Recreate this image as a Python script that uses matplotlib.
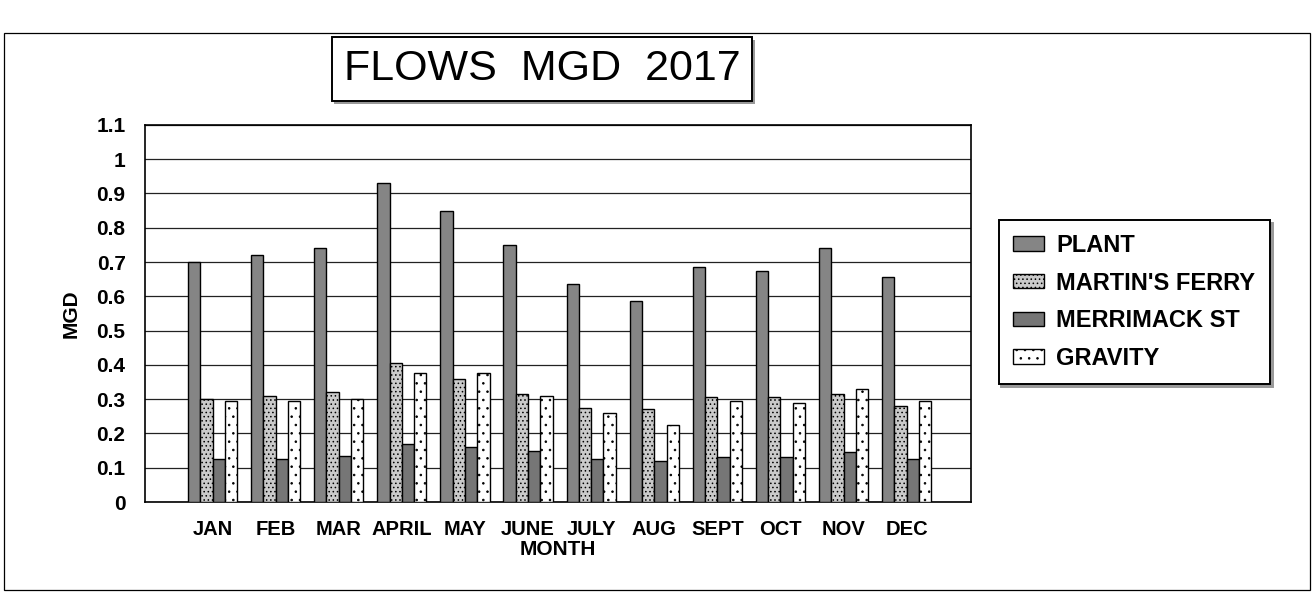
import numpy as np
import matplotlib
matplotlib.use("Agg")
from matplotlib import pyplot as plt
from matplotlib.patches import Rectangle

plt.rcParams["font.family"] = ["Liberation Sans", "DejaVu Sans"]
plt.rcParams["hatch.linewidth"] = 0.6

months = ["JAN", "FEB", "MAR", "APRIL", "MAY", "JUNE", "JULY", "AUG", "SEPT", "OCT", "NOV", "DEC"]
plant = [0.70, 0.72, 0.74, 0.93, 0.85, 0.75, 0.635, 0.585, 0.685, 0.675, 0.74, 0.655]
martins_ferry = [0.30, 0.31, 0.32, 0.405, 0.36, 0.315, 0.275, 0.27, 0.305, 0.305, 0.315, 0.28]
merrimack_st = [0.125, 0.125, 0.135, 0.17, 0.16, 0.15, 0.125, 0.12, 0.13, 0.13, 0.145, 0.125]
gravity = [0.295, 0.295, 0.30, 0.375, 0.375, 0.31, 0.26, 0.225, 0.295, 0.29, 0.33, 0.295]

series = [
    ("PLANT", plant, "#858585", None),
    ("MARTIN'S FERRY", martins_ferry, "#cacaca", "...."),
    ("MERRIMACK ST", merrimack_st, "#767676", None),
    ("GRAVITY", gravity, "#ffffff", ".."),
]

fig = plt.figure(figsize=(13.14, 5.92), dpi=100)
ax = fig.add_axes([0.1104, 0.152, 0.6286, 0.637])

x = np.arange(len(months))
w = 0.195
for i, (name, vals, col, hatch) in enumerate(series):
    ax.bar(x + (i - 1.5) * w, vals, w, color=col, edgecolor="black",
           linewidth=1.0, hatch=hatch, label=name, zorder=3)

ax.set_ylim(0, 1.1)
ax.set_xlim(-1.07, 12.02)
yt = np.round(np.arange(0, 1.11, 0.1), 1)
ax.set_yticks(yt)
ax.set_yticklabels([f"{v:g}" for v in yt], fontsize=15, fontweight="bold")
ax.set_xticks(x)
ax.set_xticklabels(months, fontsize=14.5, fontweight="bold")
ax.tick_params(axis="y", length=0, pad=14)
ax.tick_params(axis="x", length=0, pad=13)
ax.yaxis.grid(True, color="#222222", linewidth=0.9, zorder=0)
for s in ax.spines.values():
    s.set_linewidth(1.2)
ax.set_xlabel("MONTH", fontsize=15, fontweight="bold", labelpad=1)
ax.set_ylabel("MGD", fontsize=15, fontweight="bold", labelpad=11)

# title box, with a grey drop shadow behind it
fig.patches.append(Rectangle((0.2542, 0.8243), 0.3204, 0.1081, transform=fig.transFigure,
                             facecolor="#999999", edgecolor="none", zorder=1))
fig.text(0.4125, 0.883, "FLOWS  MGD  2017", fontsize=31, ha="center", va="center",
         bbox=dict(boxstyle="square,pad=0.28", facecolor="white", edgecolor="black", linewidth=1.4))

leg = fig.legend(loc="center left", bbox_to_anchor=(0.760, 0.49), borderaxespad=0,
                 prop={"size": 17, "weight": "bold"},
                 frameon=True, fancybox=False, edgecolor="black", framealpha=1,
                 shadow={"color": "#999999", "alpha": 1},
                 handlelength=1.3, handleheight=0.55, handletextpad=0.55,
                 labelspacing=0.62, borderpad=0.6)
leg.get_frame().set_linewidth(1.4)

fig.patches.append(Rectangle((0.003, 0.003), 0.994, 0.941, transform=fig.transFigure,
                             fill=False, edgecolor="black", linewidth=0.9))

fig.savefig("out.png", dpi=100)
